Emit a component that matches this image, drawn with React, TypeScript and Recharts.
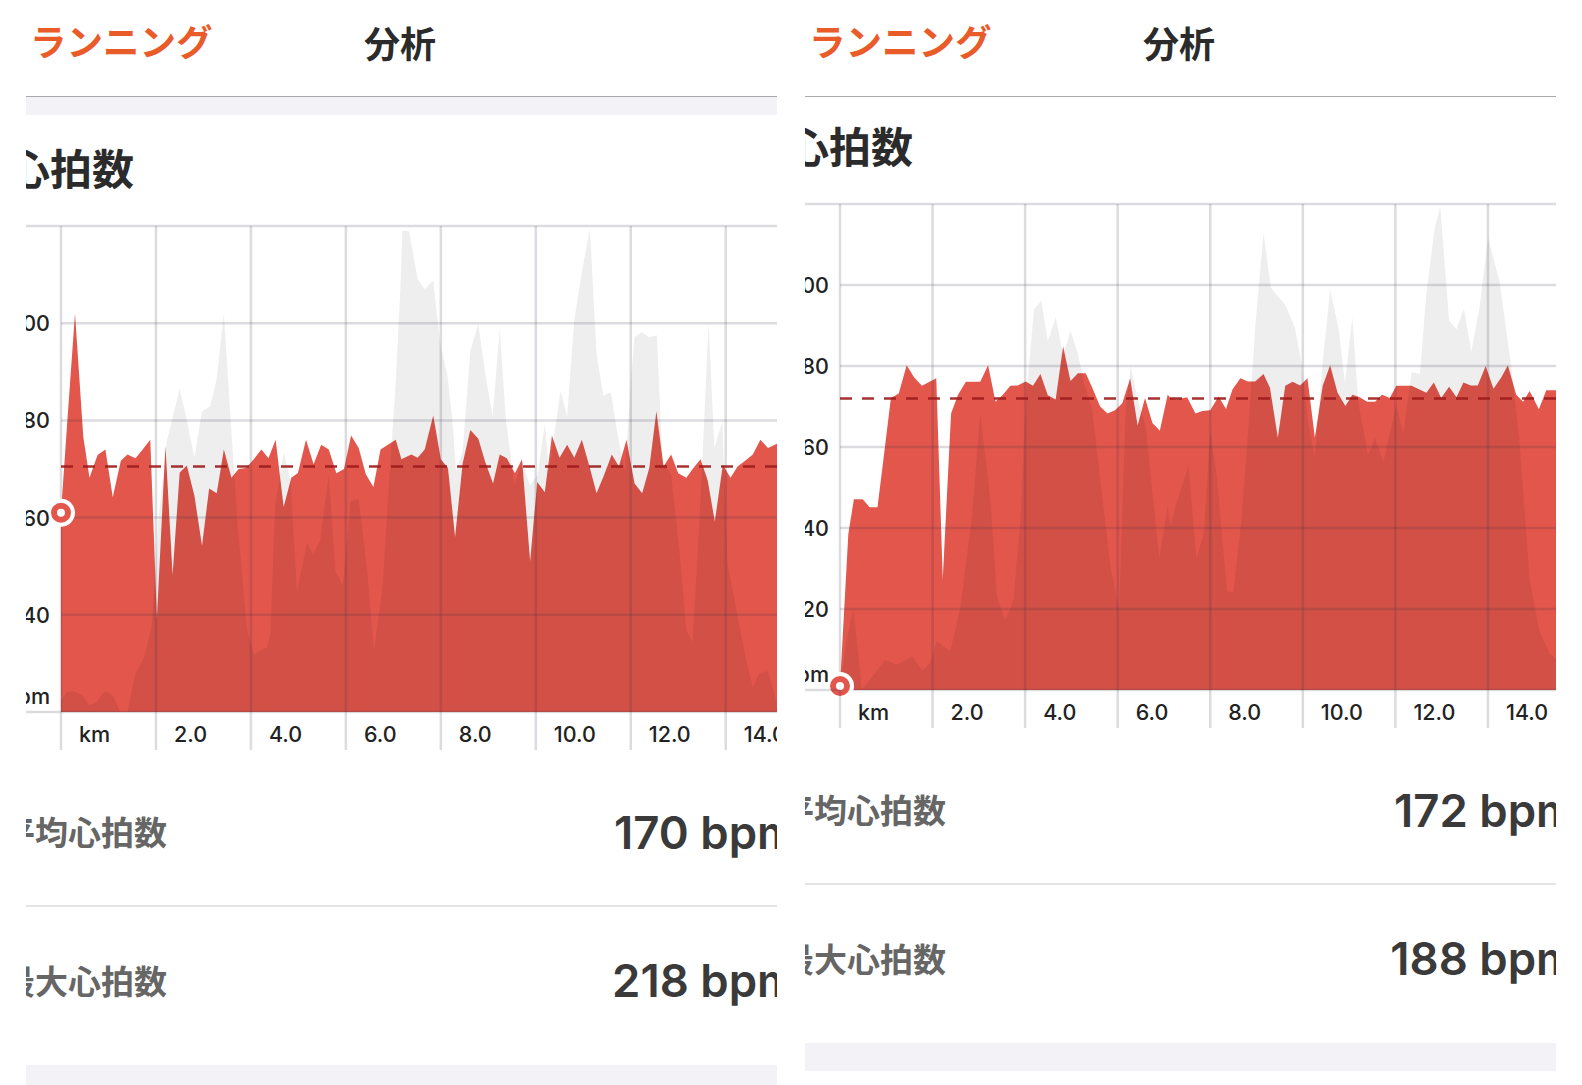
import { ComposedChart, Area, XAxis, YAxis, ReferenceLine, ReferenceDot } from "recharts";

const RED = "#E2564C";
const GRID = "rgba(50,50,70,0.17)";
const CJK = "'Noto Sans CJK JP', sans-serif";
const LATIN = "Inter, 'Noto Sans', sans-serif";

const xTicks = [0, 2, 4, 6, 8, 10, 12, 14];
const xLabels = ["km", "2.0", "4.0", "6.0", "8.0", "10.0", "12.0", "14.0"];

// left run
const leftHrKm = [0, 0.14, 0.295, 0.47, 0.6, 0.77, 0.935, 1.09, 1.26, 1.4, 1.57, 1.72, 1.88, 2.02, 2.2, 2.35, 2.5, 2.65, 2.81, 2.97, 3.12, 3.28, 3.43, 3.59, 3.74, 3.9, 4.06, 4.22, 4.37, 4.52, 4.69, 4.85, 4.99, 5.16, 5.32, 5.48, 5.64, 5.8, 5.96, 6.11, 6.27, 6.42, 6.58, 6.73, 7.05, 7.17, 7.31, 7.38, 7.51, 7.66, 7.84, 8, 8.15, 8.3, 8.46, 8.62, 8.79, 8.93, 9.1, 9.24, 9.39, 9.56, 9.71, 9.88, 10.03, 10.19, 10.34, 10.5, 10.66, 10.81, 10.97, 11.13, 11.28, 11.44, 11.6, 11.75, 11.91, 12.08, 12.24, 12.39, 12.54, 12.69, 12.85, 13, 13.17, 13.32, 13.47, 13.62, 13.77, 13.94, 14.1, 14.25, 14.41, 14.57, 14.73, 14.89, 15.1];
const leftHr = [161, 180.8, 202, 176.6, 168.2, 172.9, 174, 164.2, 171.7, 173, 172.2, 174, 176, 139.3, 174.8, 148.2, 169.3, 170.7, 164.5, 154.2, 166, 165, 174, 168.2, 170, 170.2, 172, 174, 172.2, 176, 162.2, 168.2, 169.2, 176, 171, 175, 174, 169.1, 170, 176.9, 174.3, 168.9, 166.3, 174, 176, 172, 172.7, 173, 172.3, 174, 181, 172, 170.2, 156, 171.2, 178, 176.2, 171.6, 167, 173, 172.2, 169.1, 172, 151, 167.3, 165.2, 176.9, 172.3, 175, 172.3, 176, 170.5, 165, 168.8, 173, 170.5, 176, 167, 165, 170.2, 181.9, 170.5, 173, 169.1, 168.2, 170.2, 172, 167.7, 159.2, 170.9, 168.2, 170.5, 171.7, 173, 176, 174.3, 175.3];
const leftElevKm = [0, 0.12, 0.26, 0.44, 0.6, 0.74, 0.93, 1.09, 1.24, 1.4, 1.56, 1.75, 1.91, 2.05, 2.23, 2.5, 2.65, 2.81, 2.97, 3.14, 3.28, 3.43, 3.57, 3.71, 3.92, 4.06, 4.34, 4.41, 4.51, 4.69, 4.83, 4.97, 5.18, 5.31, 5.46, 5.64, 5.78, 5.94, 6.1, 6.27, 6.45, 6.59, 6.77, 6.91, 7.05, 7.15, 7.19, 7.33, 7.51, 7.66, 7.84, 8, 8.14, 8.25, 8.32, 8.46, 8.62, 8.79, 8.93, 9.09, 9.24, 9.37, 9.55, 9.71, 9.88, 10.04, 10.19, 10.28, 10.52, 10.66, 10.81, 10.97, 11.14, 11.28, 11.42, 11.58, 11.73, 11.88, 12, 12.08, 12.23, 12.39, 12.55, 12.67, 12.85, 13.03, 13.17, 13.3, 13.45, 13.64, 13.76, 13.93, 14.04, 14.25, 14.42, 14.57, 14.71, 14.89, 15.1];
const leftElev = [122.3, 124.1, 124.3, 123.5, 121.4, 122, 124.3, 123.4, 120.2, 120, 127.7, 131.2, 137.6, 159.5, 175.8, 186.5, 180.1, 172.3, 181.9, 182.9, 188.6, 202.1, 180.8, 159.5, 136.9, 131.9, 133.3, 136.2, 162.4, 173.4, 168, 144.7, 154.9, 152.5, 155.3, 168.8, 148.9, 146.1, 163.4, 163.8, 148.9, 132.6, 145.4, 167.3, 187.9, 207.7, 219, 218.9, 209.2, 207, 208.8, 195, 189.3, 179.4, 169.5, 173.7, 194.3, 199.9, 190, 180.8, 198.9, 180.1, 166.6, 171.6, 166.6, 168.8, 179.4, 169.5, 186.1, 180.8, 200.7, 210.6, 219.4, 193.6, 185.1, 185.8, 176.6, 169.5, 187.9, 197.1, 198.2, 197.1, 197.5, 171.6, 168.8, 152.5, 136.9, 134.4, 159.5, 200.3, 174.4, 179.7, 150.3, 139.7, 131.2, 125.2, 128, 128.4, 120.9];
const leftYTicks = [120, 140, 160, 180, 200, 220];

// right run
const rightHrKm = [0, 0.18, 0.3, 0.49, 0.64, 0.81, 0.95, 1.1, 1.27, 1.44, 1.6, 1.77, 2.08, 2.22, 2.4, 2.55, 2.72, 3.03, 3.2, 3.36, 3.52, 3.68, 3.84, 4.01, 4.17, 4.33, 4.49, 4.66, 4.82, 4.98, 5.14, 5.31, 5.45, 5.62, 5.78, 5.94, 6.1, 6.27, 6.43, 6.59, 6.75, 6.91, 7.08, 7.14, 7.28, 7.5, 7.68, 7.83, 8, 8.18, 8.34, 8.48, 8.65, 8.81, 8.97, 9.15, 9.29, 9.46, 9.62, 9.78, 9.94, 10.1, 10.26, 10.43, 10.59, 10.75, 10.92, 11.07, 11.23, 11.39, 11.56, 11.71, 11.88, 12.02, 12.35, 12.67, 12.83, 12.99, 13.16, 13.32, 13.47, 13.63, 13.78, 13.95, 14.12, 14.29, 14.43, 14.61, 14.76, 14.9, 15.1, 15.26, 15.37, 15.51];
const rightHr = [101, 138.5, 147.1, 147.1, 145.1, 145.1, 158, 172.1, 173.2, 180.2, 177.2, 175.1, 177, 127.4, 168.3, 172.9, 176.1, 176.1, 180.2, 171.2, 172.9, 175.1, 175.2, 176.2, 175.1, 178, 172.8, 171.7, 184.9, 176.3, 178.2, 178.2, 174.6, 170, 168.3, 169.1, 170.8, 176.9, 165.3, 172.1, 165.9, 164, 172.9, 172.1, 171.7, 172.3, 168.3, 168.9, 169.1, 172.5, 169.4, 174.2, 177, 176.2, 176.2, 178, 174.6, 162.3, 175.1, 176.1, 175.2, 177, 162.3, 175.1, 180.2, 173.4, 170.1, 172.9, 172.3, 171.2, 171.2, 172.9, 172.1, 175.1, 175.1, 173.4, 175.9, 172.1, 174.9, 172.3, 175.9, 175.2, 175.2, 180, 174.4, 177.2, 180.2, 172.9, 171.2, 173.8, 169.3, 174, 174, 174];
const rightElevKm = [0, 0.14, 0.29, 0.47, 0.72, 0.97, 1.23, 1.57, 1.77, 1.95, 2.09, 2.38, 2.6, 2.85, 3.03, 3.25, 3.39, 3.57, 3.75, 3.9, 4.01, 4.19, 4.35, 4.49, 4.66, 4.82, 4.98, 5.14, 5.27, 5.45, 5.63, 5.85, 6.03, 6.17, 6.28, 6.43, 6.61, 6.75, 6.9, 7.08, 7.14, 7.25, 7.53, 7.7, 7.86, 8, 8.14, 8.25, 8.36, 8.5, 8.68, 8.83, 8.97, 9.15, 9.31, 9.62, 9.83, 9.98, 10.12, 10.26, 10.43, 10.59, 10.77, 10.91, 11.07, 11.2, 11.41, 11.56, 11.74, 12.02, 12.17, 12.35, 12.53, 12.67, 12.85, 12.97, 13.16, 13.32, 13.48, 13.64, 13.82, 14, 14.25, 14.5, 14.68, 14.9, 15.11, 15.33, 15.51];
const rightElev = [100.2, 112, 120.2, 100.2, 103.6, 107.4, 106.3, 108.3, 104.9, 106.6, 112.1, 109.5, 120.2, 142.7, 168.3, 147, 123.1, 117.2, 122.3, 141.9, 170.8, 193.8, 196.2, 186.1, 192.1, 182.7, 188.7, 183.1, 175.9, 169.1, 151.2, 130, 120.2, 168.3, 180.2, 171.7, 164.9, 148.7, 132.5, 145.3, 140.6, 145.3, 155.5, 132.5, 138.5, 164, 152.9, 138.5, 124.4, 124.2, 142.7, 165.7, 189.5, 212.9, 199.3, 195.1, 189.5, 180.2, 165.7, 157.2, 181, 198.9, 189.5, 175.9, 192.1, 170.8, 158, 162.3, 156.3, 170.4, 163.1, 178.5, 178, 198, 214.2, 219.3, 191.2, 189.1, 194.2, 183.6, 194.6, 211.7, 201, 180.2, 161.4, 127.4, 114.6, 109.1, 107.4];
const rightYTicks = [100, 120, 140, 160, 180, 200, 220];

function buildRows(hrKm: number[], hr: number[], elevKm: number[], elev: number[]) {
  const rows = [
    ...hrKm.map((km, i) => ({ km, hr: hr[i], elev: null as number | null })),
    ...elevKm.map((km, i) => ({ km, hr: null as number | null, elev: elev[i] })),
  ];
  return rows.sort((a, b) => a.km - b.km);
}

function Txt({ x, right, y, size, color, weight, font, children }: any) {
  return (
    <div style={{ position: "absolute", left: x, right, top: y, transform: "translateY(-50%)", fontSize: size, color, fontWeight: weight, fontFamily: font, lineHeight: 1, whiteSpace: "nowrap" }}>
      {children}
    </div>
  );
}

function XTick({ x, y, payload }: any) {
  return (
    <g>
      <line x1={x} x2={x} y1={y} y2={y + 38} stroke={GRID} strokeWidth={2.5} />
      <text x={x + 18} y={y + 30} textAnchor="start" fontSize={21.5} fontWeight={500} fontFamily={LATIN} fill="#222">
        {xLabels[xTicks.indexOf(payload.value)]}
      </text>
    </g>
  );
}

function makeYTick(ticks: number[]) {
  const bottom = ticks[0];
  const top = ticks[ticks.length - 1];
  return function YTick({ x, y, payload }: any) {
    const v = payload.value;
    const edge = v === bottom || v === top;
    return (
      <g>
        {edge && <line x1={x - 36} x2={x} y1={y} y2={y} stroke={GRID} strokeWidth={2.5} />}
        {v !== top && (
          <text x={x - 11} y={v === bottom ? y - 16 : y} dy={8} textAnchor="end" fontSize={21.5} fontWeight={500} fontFamily={LATIN} fill="#222">
            {v === bottom ? "bpm" : v}
          </text>
        )}
      </g>
    );
  };
}

function Marker({ cx, cy }: any) {
  return (
    <g>
      <circle cx={cx} cy={cy} r={14} fill="#fff" />
      <circle cx={cx} cy={cy} r={10} fill={RED} />
      <circle cx={cx} cy={cy} r={4} fill="#fff" />
    </g>
  );
}

function Panel({ left, shift, bandTop, avg, max, rows, yTicks, xMax, yAxisWidth, avgLine, start, bottomBand }: any) {
  return (
    <div style={{ position: "absolute", left, top: 0, width: 751, height: 1085, overflow: "hidden", background: "#fff" }}>
      <Txt x={4} y={41} size={36.5} color="#EA5B2A" weight={700} font={CJK}>ランニング</Txt>
      <Txt x={338} y={42} size={36} color="#2b2b2b" weight={700} font={CJK}>分析</Txt>
      <div style={{ position: "absolute", left: 0, top: 96, width: 751, height: 1, background: "#a9a9ad" }} />
      {bandTop && <div style={{ position: "absolute", left: 0, top: 97, width: 751, height: 18, background: "#f2f2f7" }} />}
      <Txt x={-18} y={167 + shift} size={42} color="#2b2b2b" weight={700} font={CJK}>心拍数</Txt>
      <div style={{ position: "absolute", left: 0, top: 224 + shift }}>
        <ComposedChart width={751} height={528} data={rows} margin={{ top: 2, right: 0, bottom: 2, left: 0 }}>
          <XAxis
            dataKey="km"
            type="number"
            domain={[0, xMax]}
            ticks={xTicks}
            allowDataOverflow
            height={38}
            axisLine={false}
            tickLine={false}
            tickSize={0}
            tickMargin={0}
            interval={0}
            tick={<XTick />}
          />
          <YAxis
            type="number"
            domain={[yTicks[0], yTicks[yTicks.length - 1]]}
            ticks={yTicks}
            width={yAxisWidth}
            axisLine={false}
            tickLine={false}
            tickSize={0}
            tickMargin={0}
            interval={0}
            tick={makeYTick(yTicks)}
          />
          <Area dataKey="hr" type="linear" connectNulls stroke="none" fill={RED} fillOpacity={1} dot={false} activeDot={false} isAnimationActive={false} />
          <Area dataKey="elev" type="linear" connectNulls stroke="none" fill="#000" fillOpacity={0.065} dot={false} activeDot={false} isAnimationActive={false} />
          {yTicks.map((v: number) => (
            <ReferenceLine key={"h" + v} y={v} stroke={GRID} strokeWidth={2.5} />
          ))}
          {xTicks.map((v: number) => (
            <ReferenceLine key={"v" + v} x={v} stroke={GRID} strokeWidth={2.5} />
          ))}
          <ReferenceLine y={avgLine} stroke="#9c1c1c" strokeOpacity={0.9} strokeWidth={2.5} strokeDasharray="12 10" />
          <ReferenceDot x={0} y={start} shape={<Marker />} ifOverflow="visible" />
        </ComposedChart>
      </div>
      <Txt x={-24} y={831 + shift} size={33} color="#666" weight={700} font={CJK}>平均心拍数</Txt>
      <Txt right={-21} y={833 + shift} size={45.5} color="#3a3a3a" weight={600} font={LATIN}>{avg} bpm</Txt>
      <div style={{ position: "absolute", left: 0, top: 905 + shift, width: 751, height: 2, background: "#e4e4e6" }} />
      <Txt x={-24} y={980 + shift} size={33} color="#666" weight={700} font={CJK}>最大心拍数</Txt>
      <Txt right={-21} y={981 + shift} size={45.5} color="#3a3a3a" weight={600} font={LATIN}>{max} bpm</Txt>
      <div style={{ position: "absolute", left: 0, top: bottomBand[0], width: 751, height: bottomBand[1], background: "#f2f2f7" }} />
    </div>
  );
}

export default function App() {
  return (
    <div style={{ position: "fixed", left: 0, top: 0, width: 1582, height: 1085, background: "#fff", overflow: "hidden" }}>
      <Panel
        left={26}
        shift={0}
        bandTop
        avg={170}
        max={218}
        rows={buildRows(leftHrKm, leftHr, leftElevKm, leftElev)}
        yTicks={leftYTicks}
        xMax={15.08}
        yAxisWidth={35}
        avgLine={170.5}
        start={161}
        bottomBand={[1065, 20]}
      />
      <Panel
        left={805}
        shift={-22}
        bandTop={false}
        avg={172}
        max={188}
        rows={buildRows(rightHrKm, rightHr, rightElevKm, rightElev)}
        yTicks={rightYTicks}
        xMax={15.47}
        yAxisWidth={35}
        avgLine={172}
        start={101}
        bottomBand={[1043, 28]}
      />
    </div>
  );
}
